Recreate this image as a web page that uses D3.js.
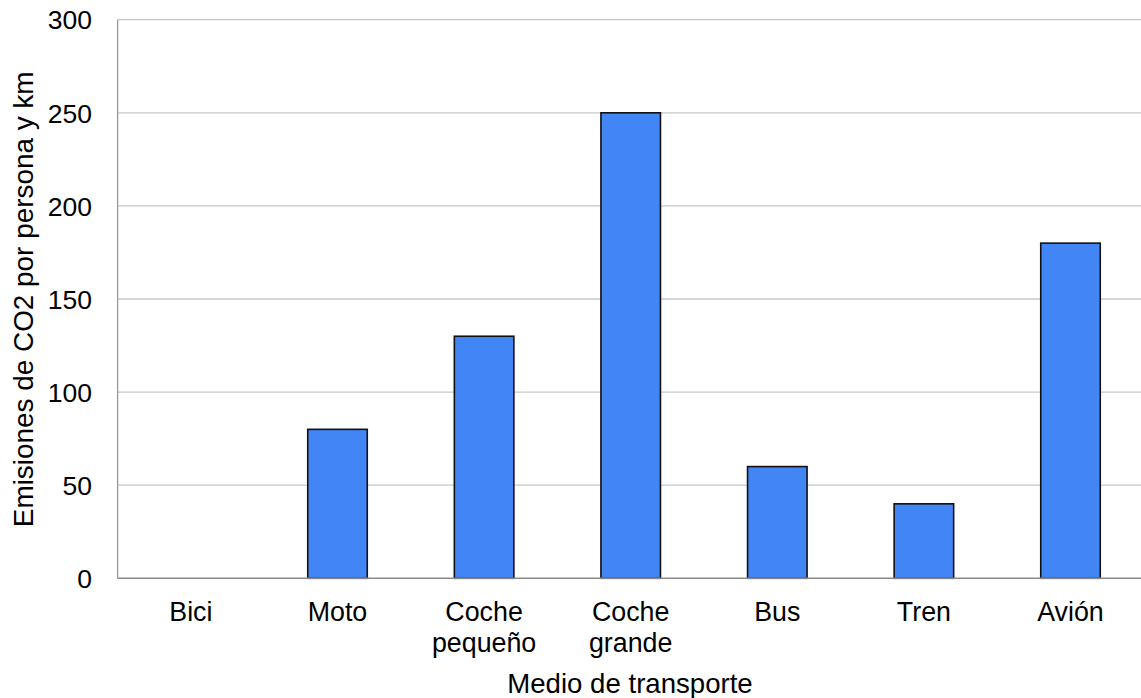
<!DOCTYPE html>
<html>
<head>
<meta charset="utf-8">
<script src="https://cdn.jsdelivr.net/npm/d3@7"></script>
<style>
  html, body { margin: 0; padding: 0; background: #fff; }
  svg { display: block; font-family: "Liberation Sans", Arial, sans-serif; }
</style>
</head>
<body>
<svg id="chart" width="1141" height="698"></svg>
<script>
// Emisiones de CO2 por persona y km según el medio de transporte
const categories = ["Bici", "Moto", "Coche\npequeño", "Coche\ngrande", "Bus", "Tren", "Avión"];
const emissions = [0, 80, 130, 250, 60, 40, 180];
const yTicks = [0, 50, 100, 150, 200, 250, 300];
const xTitle = "Medio de transporte";
const yTitle = "Emisiones de CO2 por persona y km";

const svg = d3.select("#chart");
const plot = { left: 117.6, right: 1143.8, top: 19.7, bottom: 578.3 };
const tickFont = 26.5;
const catFont = 26.8;

const x = d3.scaleBand()
  .domain(categories)
  .range([plot.left, plot.right])
  .paddingInner(0)
  .paddingOuter(0);

const y = d3.scaleLinear()
  .domain([0, 300])
  .range([plot.bottom, plot.top]);

// horizontal gridlines
svg.append("g")
  .selectAll("line")
  .data(yTicks.filter(t => t > 0))
  .join("line")
  .attr("x1", plot.left)
  .attr("x2", 1141)
  .attr("y1", d => y(d))
  .attr("y2", d => y(d))
  .attr("stroke", "#c8c8c8")
  .attr("stroke-width", 1.3);

// y axis labels
const yAxis = d3.axisLeft(y).tickValues(yTicks).tickSize(0).tickPadding(0);
const gy = svg.append("g")
  .attr("transform", `translate(92,0)`)
  .call(yAxis);
gy.select(".domain").remove();
gy.selectAll("text")
  .attr("font-size", tickFont)
  .attr("font-family", "Liberation Sans, Arial, sans-serif")
  .attr("fill", "#000")
  .attr("dy", "0.35em");

// bars
const bw = x.bandwidth() * 0.406;
svg.append("g")
  .selectAll("rect")
  .data(categories.map((c, i) => ({ c, v: emissions[i] })).filter(d => d.v > 0))
  .join("rect")
  .attr("x", d => x(d.c) + (x.bandwidth() - bw) / 2)
  .attr("y", d => y(d.v))
  .attr("width", bw)
  .attr("height", d => y(0) - y(d.v))
  .attr("fill", "#4285f4")
  .attr("stroke", "#111")
  .attr("stroke-width", 1.6);

// left axis line and baseline
svg.append("line")
  .attr("x1", plot.left).attr("x2", plot.left)
  .attr("y1", plot.top).attr("y2", plot.bottom)
  .attr("stroke", "#999").attr("stroke-width", 1.3);
svg.append("line")
  .attr("x1", plot.left).attr("x2", 1141)
  .attr("y1", plot.bottom).attr("y2", plot.bottom)
  .attr("stroke", "#8a8a8a").attr("stroke-width", 1.5);

// category labels (two lines where needed)
const xl = svg.append("g");
categories.forEach(c => {
  const lines = c.split("\n");
  const t = xl.append("text")
    .attr("x", x(c) + x.bandwidth() / 2)
    .attr("y", 621)
    .attr("text-anchor", "middle")
    .attr("font-size", catFont)
    .attr("fill", "#000");
  lines.forEach((ln, i) => {
    t.append("tspan")
      .attr("x", x(c) + x.bandwidth() / 2)
      .attr("dy", i === 0 ? 0 : 31)
      .text(ln);
  });
});

// axis titles
svg.append("text")
  .attr("x", 630)
  .attr("y", 692.5)
  .attr("text-anchor", "middle")
  .attr("font-size", 27.6)
  .attr("fill", "#000")
  .text(xTitle);

svg.append("text")
  .attr("transform", `translate(33,299.3) rotate(-90)`)
  .attr("text-anchor", "middle")
  .attr("font-size", 27.9)
  .attr("fill", "#000")
  .text(yTitle);
</script>
</body>
</html>
